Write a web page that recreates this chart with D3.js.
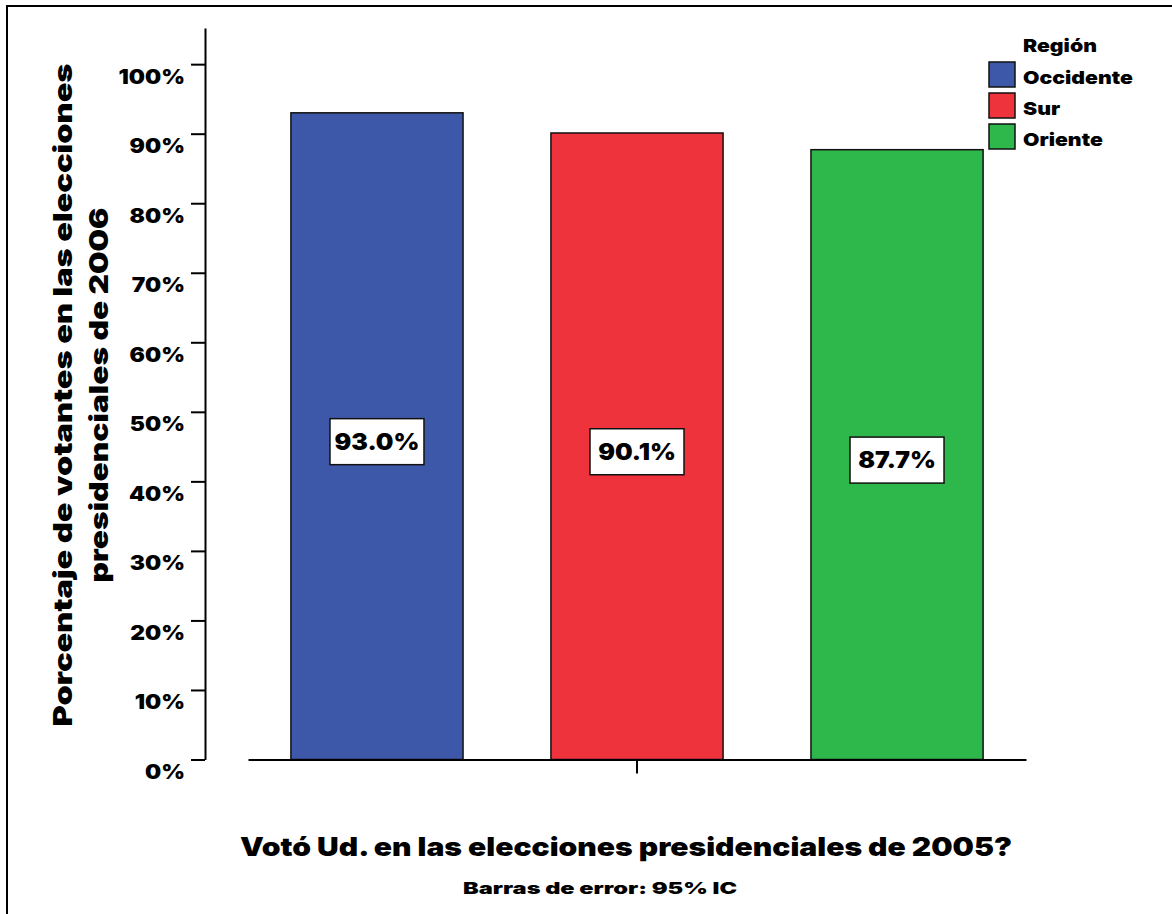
<!DOCTYPE html>
<html>
<head>
<meta charset="utf-8">
<script src="https://cdn.jsdelivr.net/npm/d3@7"></script>
<style>
  html, body { margin: 0; padding: 0; background: #fff; }
  svg { display: block; }
  text { font-family: "Inter", "Roboto", "Liberation Sans", sans-serif; font-weight: 900; fill: #000; }
</style>
</head>
<body>
<svg id="chart" width="1172" height="914"></svg>
<script>
const categories = ["Votó Ud. en las elecciones presidenciales de 2005?"];
const regions = ["Occidente", "Sur", "Oriente"];
const values = [93.0, 90.1, 87.7];
const colors = ["#3e58a9", "#ef333c", "#2eb84b"];
const yTicks = [0, 10, 20, 30, 40, 50, 60, 70, 80, 90, 100];
const yTitleLines = ["Porcentaje de votantes en las elecciones", "presidenciales de 2006"];
const legendTitle = "Región";
const footnote = "Barras de error: 95% IC";

const svg = d3.select("#chart");

function widen(sel, factor) {
  sel.each(function () {
    const w = this.getComputedTextLength();
    d3.select(this).attr("textLength", w * factor).attr("lengthAdjust", "spacingAndGlyphs");
  });
}
function fitTo(sel, target) {
  sel.attr("textLength", target).attr("lengthAdjust", "spacingAndGlyphs");
}

// frame
svg.append("rect").attr("x", 7).attr("y", 6).attr("width", 1200).attr("height", 950)
  .attr("fill", "#fff").attr("stroke", "#000").attr("stroke-width", 2);

const y = d3.scaleLinear().domain([0, 105.2]).range([759.5, 28]);
const x0 = d3.scaleBand().domain(categories).range([248, 1026]);
const x1 = d3.scaleBand().domain(regions).range([0, x0.bandwidth()])
  .paddingInner(0.338).paddingOuter(0.165);
const color = d3.scaleOrdinal().domain(regions).range(colors);

// y axis
const yAxis = svg.append("g").attr("transform", "translate(205,0)")
  .call(d3.axisLeft(y).tickValues(yTicks).tickSize(14).tickSizeOuter(0).tickFormat(d => d + "%"));
yAxis.select(".domain").attr("stroke", "#000").attr("stroke-width", 2);
yAxis.selectAll(".tick line").attr("stroke", "#000").attr("stroke-width", 2);
yAxis.selectAll(".tick text").attr("x", -20).attr("dy", "0.95em")
  .style("font-size", "20px").style("font-family", null);
widen(yAxis.selectAll(".tick text"), 1.14);

// bars
const g = svg.append("g");
const data = regions.map((r, i) => ({ region: r, value: values[i], cat: categories[0] }));
g.selectAll("rect.bar").data(data).join("rect").attr("class", "bar")
  .attr("x", d => x0(d.cat) + x1(d.region))
  .attr("width", x1.bandwidth())
  .attr("y", d => y(d.value))
  .attr("height", d => y(0) - y(d.value))
  .attr("fill", d => color(d.region))
  .attr("stroke", "#111").attr("stroke-width", 1.5);

// x axis
const xAxis = svg.append("g").attr("transform", `translate(0,${y(0)})`)
  .call(d3.axisBottom(x0).tickSize(14).tickSizeOuter(0).tickFormat(""));
xAxis.select(".domain").attr("stroke", "#000").attr("stroke-width", 2);
xAxis.selectAll(".tick line").attr("stroke", "#000").attr("stroke-width", 2);

// value labels
const lab = g.selectAll("g.lab").data(data).join("g").attr("class", "lab")
  .attr("transform", d => `translate(${x0(d.cat) + x1(d.region) + x1.bandwidth() / 2},${(y(d.value) + y(0)) / 2 + 5.5})`);
lab.append("rect").attr("x", -47).attr("y", -23).attr("width", 94).attr("height", 46)
  .attr("fill", "#fff").attr("stroke", "#111").attr("stroke-width", 1.5);
const vt = lab.append("text").attr("text-anchor", "middle").attr("dy", "0.36em")
  .style("font-size", "23px").text(d => d.value.toFixed(1) + "%");
widen(vt, 1.08);

// y title
const ytPos = [72, 108];
const ytTargets = [663, 375];
yTitleLines.forEach((line, i) => {
  const t = svg.append("text")
    .attr("transform", `translate(${ytPos[i]},395) rotate(-90)`)
    .attr("text-anchor", "middle").style("font-size", "26px").text(line);
  fitTo(t, ytTargets[i]);
});

// x title
const xt = svg.append("text").attr("x", 626).attr("y", 856).attr("text-anchor", "middle")
  .style("font-size", "26px").text(categories[0]);
fitTo(xt, 772);
const ft = svg.append("text").attr("x", 600).attr("y", 894).attr("text-anchor", "middle")
  .style("font-size", "16px").text(footnote);
fitTo(ft, 274);

// legend
const leg = svg.append("g");
const lt = leg.append("text").attr("x", 1023).attr("y", 52).style("font-size", "18px").text(legendTitle);
widen(lt, 1.18);
const li = leg.selectAll("g.li").data(regions).join("g").attr("class", "li")
  .attr("transform", (d, i) => `translate(989,${62 + i * 31})`);
li.append("rect").attr("width", 26).attr("height", 25).attr("fill", d => color(d))
  .attr("stroke", "#111").attr("stroke-width", 1.5);
const ltx = li.append("text").attr("x", 34).attr("y", 22).style("font-size", "18px").text(d => d);
widen(ltx, 1.18);
</script>
</body>
</html>
